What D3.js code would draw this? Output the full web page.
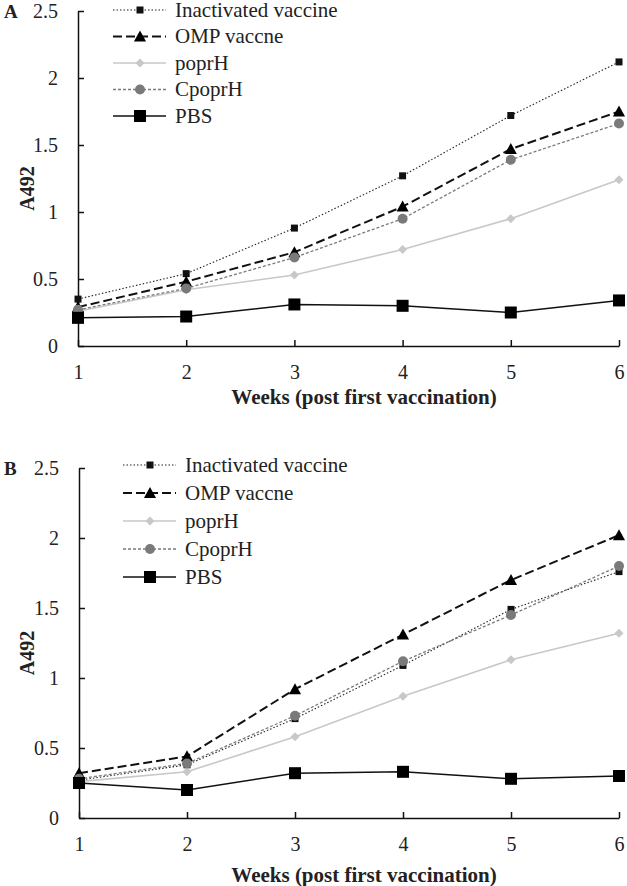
<!DOCTYPE html>
<html>
<head>
<meta charset="utf-8">
<script src="https://cdn.jsdelivr.net/npm/d3@7"></script>
<style>
  body { margin: 0; background: #fff; }
  svg { font-family: "Liberation Serif", "Times New Roman", serif; }
</style>
</head>
<body>
<div id="chart"></div>
<script>
// data
const weeks = [1, 2, 3, 4, 5, 6];
const seriesNames = ["Inactivated vaccine", "OMP vaccne", "poprH", "CpoprH", "PBS"];
const yTicks = [0, 0.5, 1, 1.5, 2, 2.5];

// panel A
const aInactivated = [0.35, 0.54, 0.88, 1.27, 1.72, 2.12];
const aOMP = [0.29, 0.48, 0.70, 1.04, 1.47, 1.75];
const aPoprH = [0.26, 0.42, 0.53, 0.72, 0.95, 1.24];
const aCpoprH = [0.27, 0.43, 0.66, 0.95, 1.39, 1.66];
const aPBS = [0.21, 0.22, 0.31, 0.30, 0.25, 0.34];

// panel B
const bInactivated = [0.27, 0.38, 0.71, 1.09, 1.49, 1.76];
const bOMP = [0.32, 0.44, 0.92, 1.31, 1.70, 2.02];
const bPoprH = [0.26, 0.33, 0.58, 0.87, 1.13, 1.32];
const bCpoprH = [0.28, 0.39, 0.73, 1.12, 1.45, 1.80];
const bPBS = [0.25, 0.20, 0.32, 0.33, 0.28, 0.30];

// series styles
const styles = [
  { stroke: "#222", width: 1.1, dash: "1.5,2", marker: "square", size: 7, fill: "#111" },
  { stroke: "#111", width: 2, dash: "9,4", marker: "triangle", size: 11, fill: "#000" },
  { stroke: "#c8c8c8", width: 1.6, dash: null, marker: "diamond", size: 9, fill: "#c8c8c8" },
  { stroke: "#7a7a7a", width: 1.3, dash: "3,2", marker: "circle", size: 10, fill: "#7a7a7a" },
  { stroke: "#111", width: 1.5, dash: null, marker: "square", size: 12, fill: "#000" }
];

const svg = d3.select("#chart")
  .append("svg")
  .attr("width", 627)
  .attr("height", 886);

function drawMarker(g, style, x, y) {
  const s = style.size;
  if (style.marker === "square") {
    g.append("rect")
      .attr("x", x - s / 2).attr("y", y - s / 2)
      .attr("width", s).attr("height", s)
      .attr("fill", style.fill);
  } else if (style.marker === "triangle") {
    g.append("path")
      .attr("d", `M${x},${y - s * 0.55}L${x + s * 0.55},${y + s * 0.45}L${x - s * 0.55},${y + s * 0.45}Z`)
      .attr("fill", style.fill);
  } else if (style.marker === "diamond") {
    g.append("path")
      .attr("d", `M${x},${y - s / 2}L${x + s / 2},${y}L${x},${y + s / 2}L${x - s / 2},${y}Z`)
      .attr("fill", style.fill);
  } else {
    g.append("circle")
      .attr("cx", x).attr("cy", y).attr("r", s / 2)
      .attr("fill", style.fill);
  }
}

function drawPanel(cfg) {
  const g = svg.append("g");

  const xScale = d3.scaleLinear().domain([1, 6]).range([cfg.left, cfg.right]);
  const yScale = d3.scaleLinear().domain([0, 2.5]).range([cfg.bottom, cfg.top]);

  // axes
  const xAxis = d3.axisBottom(xScale).tickValues(weeks).tickSizeInner(-6).tickSizeOuter(0).tickPadding(19)
    .tickFormat(d => d);
  const yAxis = d3.axisLeft(yScale).tickValues(yTicks).tickSizeInner(-6).tickSizeOuter(0).tickPadding(20)
    .tickFormat(d => d);

  const gx = g.append("g").attr("transform", `translate(0,${cfg.bottom})`).call(xAxis);
  const gy = g.append("g").attr("transform", `translate(${cfg.left},0)`).call(yAxis);
  [gx, gy].forEach(ax => {
    ax.selectAll("path, line").attr("stroke", "#111").attr("stroke-width", 1.5);
    ax.selectAll("text").attr("font-size", 20).attr("fill", "#222")
      .attr("font-family", "Liberation Serif");
  });
  gx.selectAll("text").attr("dy", "0.71em");

  // series
  cfg.series.forEach((values, i) => {
    const st = styles[i];
    const line = d3.line().x((d, j) => xScale(weeks[j])).y(d => yScale(d));
    g.append("path")
      .datum(values)
      .attr("d", line)
      .attr("fill", "none")
      .attr("stroke", st.stroke)
      .attr("stroke-width", st.width)
      .attr("stroke-dasharray", st.dash);
    values.forEach((v, j) => drawMarker(g, st, xScale(weeks[j]), yScale(v)));
  });

  // legend
  seriesNames.forEach((name, i) => {
    const st = styles[i];
    const ly = cfg.legendY + i * cfg.legendStep;
    g.append("line")
      .attr("x1", cfg.legendX).attr("x2", cfg.legendX + 53)
      .attr("y1", ly).attr("y2", ly)
      .attr("stroke", st.stroke).attr("stroke-width", st.width)
      .attr("stroke-dasharray", st.dash);
    drawMarker(g, st, cfg.legendX + 27, ly);
    g.append("text")
      .attr("x", cfg.legendX + 62).attr("y", ly)
      .attr("dy", "0.33em")
      .attr("font-size", 21)
      .attr("fill", "#222")
      .text(name);
  });

  // titles
  g.append("text")
    .attr("x", 364)
    .attr("y", cfg.xTitleY)
    .attr("text-anchor", "middle")
    .attr("font-size", 21)
    .attr("font-weight", "bold")
    .attr("fill", "#222")
    .text("Weeks (post first vaccination)");

  g.append("text")
    .attr("transform", `translate(34,${(cfg.top + cfg.bottom) / 2 + 10}) rotate(-90)`)
    .attr("text-anchor", "middle")
    .attr("font-size", 20)
    .attr("font-weight", "bold")
    .attr("fill", "#222")
    .text("A492");

  g.append("text")
    .attr("x", 4).attr("y", cfg.top + 7)
    .attr("font-size", 19)
    .attr("font-weight", "bold")
    .attr("fill", "#222")
    .text(cfg.label);
}

drawPanel({
  label: "A", left: 78, right: 619, top: 11, bottom: 346,
  series: [aInactivated, aOMP, aPoprH, aCpoprH, aPBS],
  legendX: 113, legendY: 10, legendStep: 26.5, xTitleY: 404
});

drawPanel({
  label: "B", left: 79, right: 619, top: 468, bottom: 818,
  series: [bInactivated, bOMP, bPoprH, bCpoprH, bPBS],
  legendX: 123, legendY: 465, legendStep: 28, xTitleY: 882
});
</script>
</body>
</html>
